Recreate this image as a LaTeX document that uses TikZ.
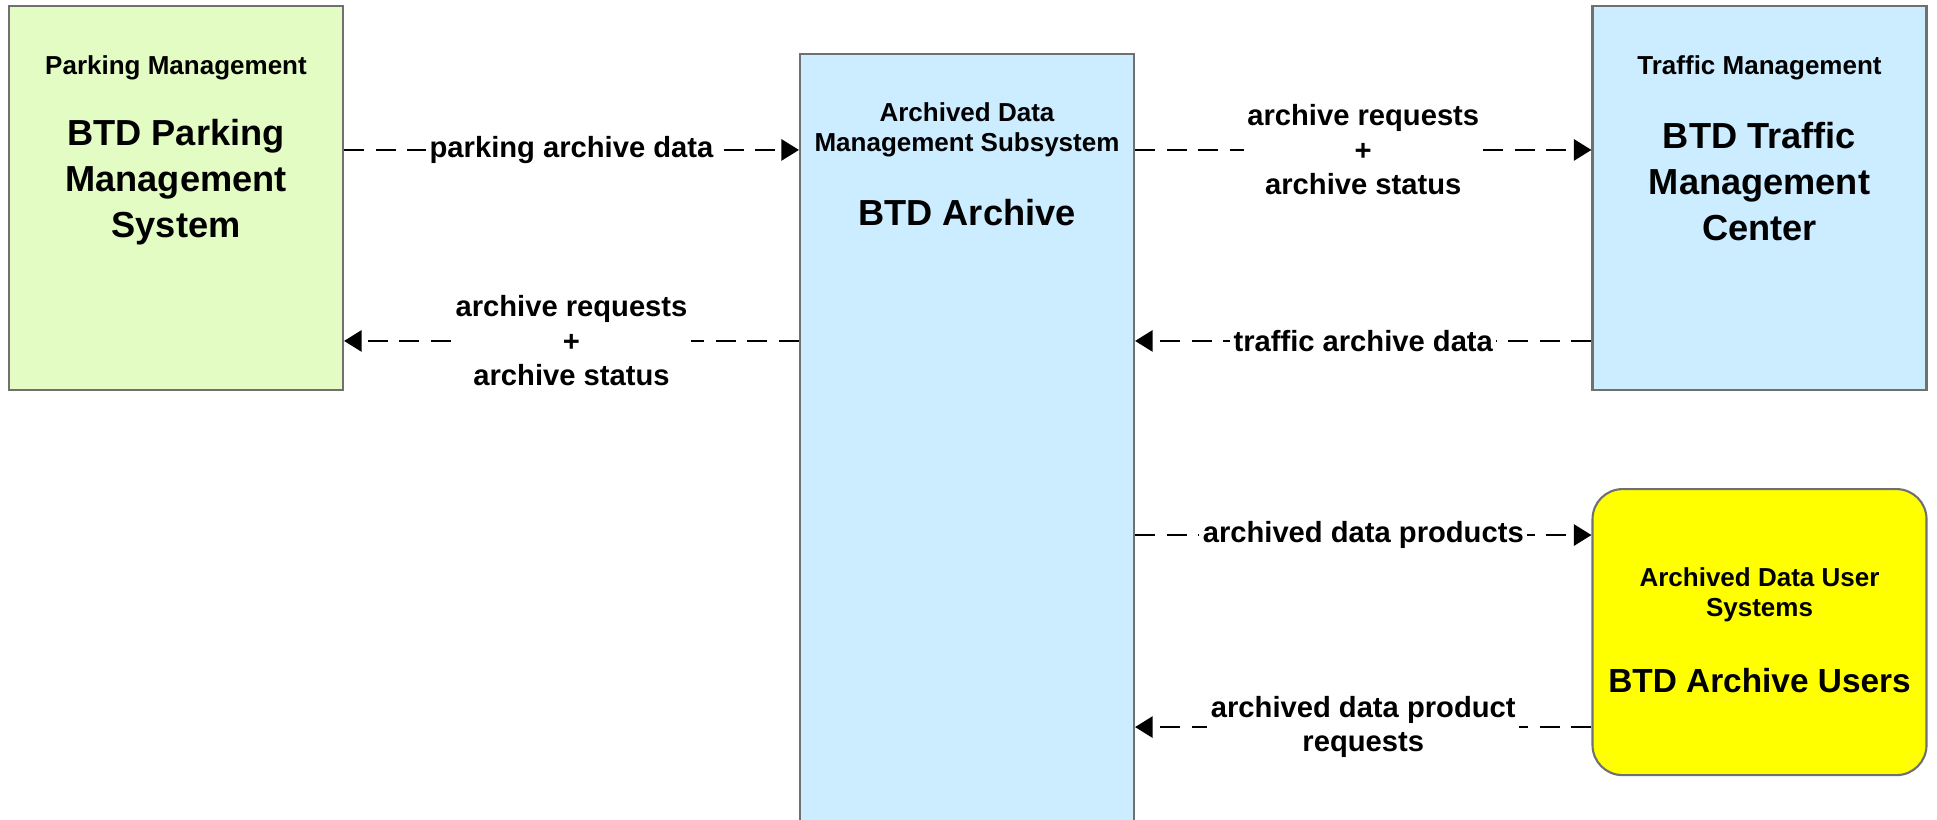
\documentclass[tikz,border=0pt]{standalone}
\usepackage{fontspec}
\setmainfont{Liberation Sans}
\usetikzlibrary{arrows.meta,calc,positioning}

\definecolor{parkfill}{HTML}{E3FCC3}
\definecolor{archfill}{HTML}{CCECFF}
\definecolor{userfill}{HTML}{FFFF00}
\definecolor{boxline}{HTML}{707070}

\tikzset{
  sysbox/.style={draw=boxline, line width=0.6pt, minimum width=3.34cm, minimum height=3.84cm, inner sep=0pt},
  hdr/.style={font=\fontsize{7.4}{8.6}\selectfont\bfseries, align=center, inner sep=0pt},
  ttl/.style={font=\fontsize{10.3}{13.1}\selectfont\bfseries, align=center, inner sep=0pt},
  flow/.style={dash pattern=on 5.7pt off 3.3pt, line width=0.75pt, -{Triangle[length=5pt,width=6pt]}},
  lbl/.style={fill=white, font=\fontsize{8.3}{9.8}\selectfont\bfseries, align=center, inner sep=1pt}
}

\begin{document}
\begin{tikzpicture}
    \useasboundingbox (0,0) rectangle (19.37,-8.20);

    \node[sysbox, fill=parkfill]                            (park)  at (1.76,-1.98)  {};
    \node[sysbox, fill=archfill, minimum height=7.9cm]      (arch)  at (9.67,-4.49)  {};
    \node[sysbox, fill=archfill]                            (traff) at (17.595,-1.98) {};
    \node[sysbox, fill=userfill, rounded corners=0.3cm, minimum height=2.86cm, below=0.97cm of traff] (users) {};

    % box texts
    \node[hdr] (parkhdr)  at ($(park.north)  - (0,0.63)$) {Parking Management};
    \node[ttl] (parkttl)  at ($(park.north)  - (0,1.77)$) {BTD Parking\\Management\\System};
    \node[hdr] (archhdr)  at ($(arch.north)  - (0,0.77)$) {Archived Data\\Management Subsystem};
    \node[ttl] (archttl)  at ($(arch.north)  - (0,1.60)$) {BTD Archive};
    \node[hdr] (traffhdr) at ($(traff.north) - (0,0.63)$) {Traffic Management};
    \node[ttl] (traffttl) at ($(traff.north) - (0,1.77)$) {BTD Traffic\\Management\\Center};
    \node[hdr] (usershdr) at ($(users.north) - (0,1.07)$) {Archived Data User\\Systems};
    \node[ttl, font=\fontsize{9.5}{12}\selectfont\bfseries] (usersttl) at ($(users.north) - (0,1.93)$) {BTD Archive Users};

    % flows
    \draw[flow] ($(park.north east) - (0,1.45)$) -- ($(park.north east -| arch.west) - (0,1.45)$)
        node[lbl, midway] {parking archive data};

    \draw[flow] ($(park.north east -| arch.west) - (0,3.36)$) -- ($(park.north east) - (0,3.36)$)
        node[lbl, midway] {archive requests\\+\\archive status};

    \draw[flow] ($(traff.north west -| arch.east) - (0,1.45)$) -- ($(traff.north west) - (0,1.45)$)
        node[lbl, midway] {archive requests\\+\\archive status};

    \draw[flow] ($(traff.north west) - (0,3.36)$) -- ($(traff.north west -| arch.east) - (0,3.36)$)
        node[lbl, midway] {traffic archive data};

    \draw[flow] ($(users.north west -| arch.east) - (0,0.47)$) -- ($(users.north west) - (0,0.47)$)
        node[lbl, midway] {archived data products};

    \draw[flow] ($(users.north west) - (0,2.39)$) -- ($(users.north west -| arch.east) - (0,2.39)$)
        node[lbl, midway] {archived data product\\requests};

\end{tikzpicture}
\end{document}
